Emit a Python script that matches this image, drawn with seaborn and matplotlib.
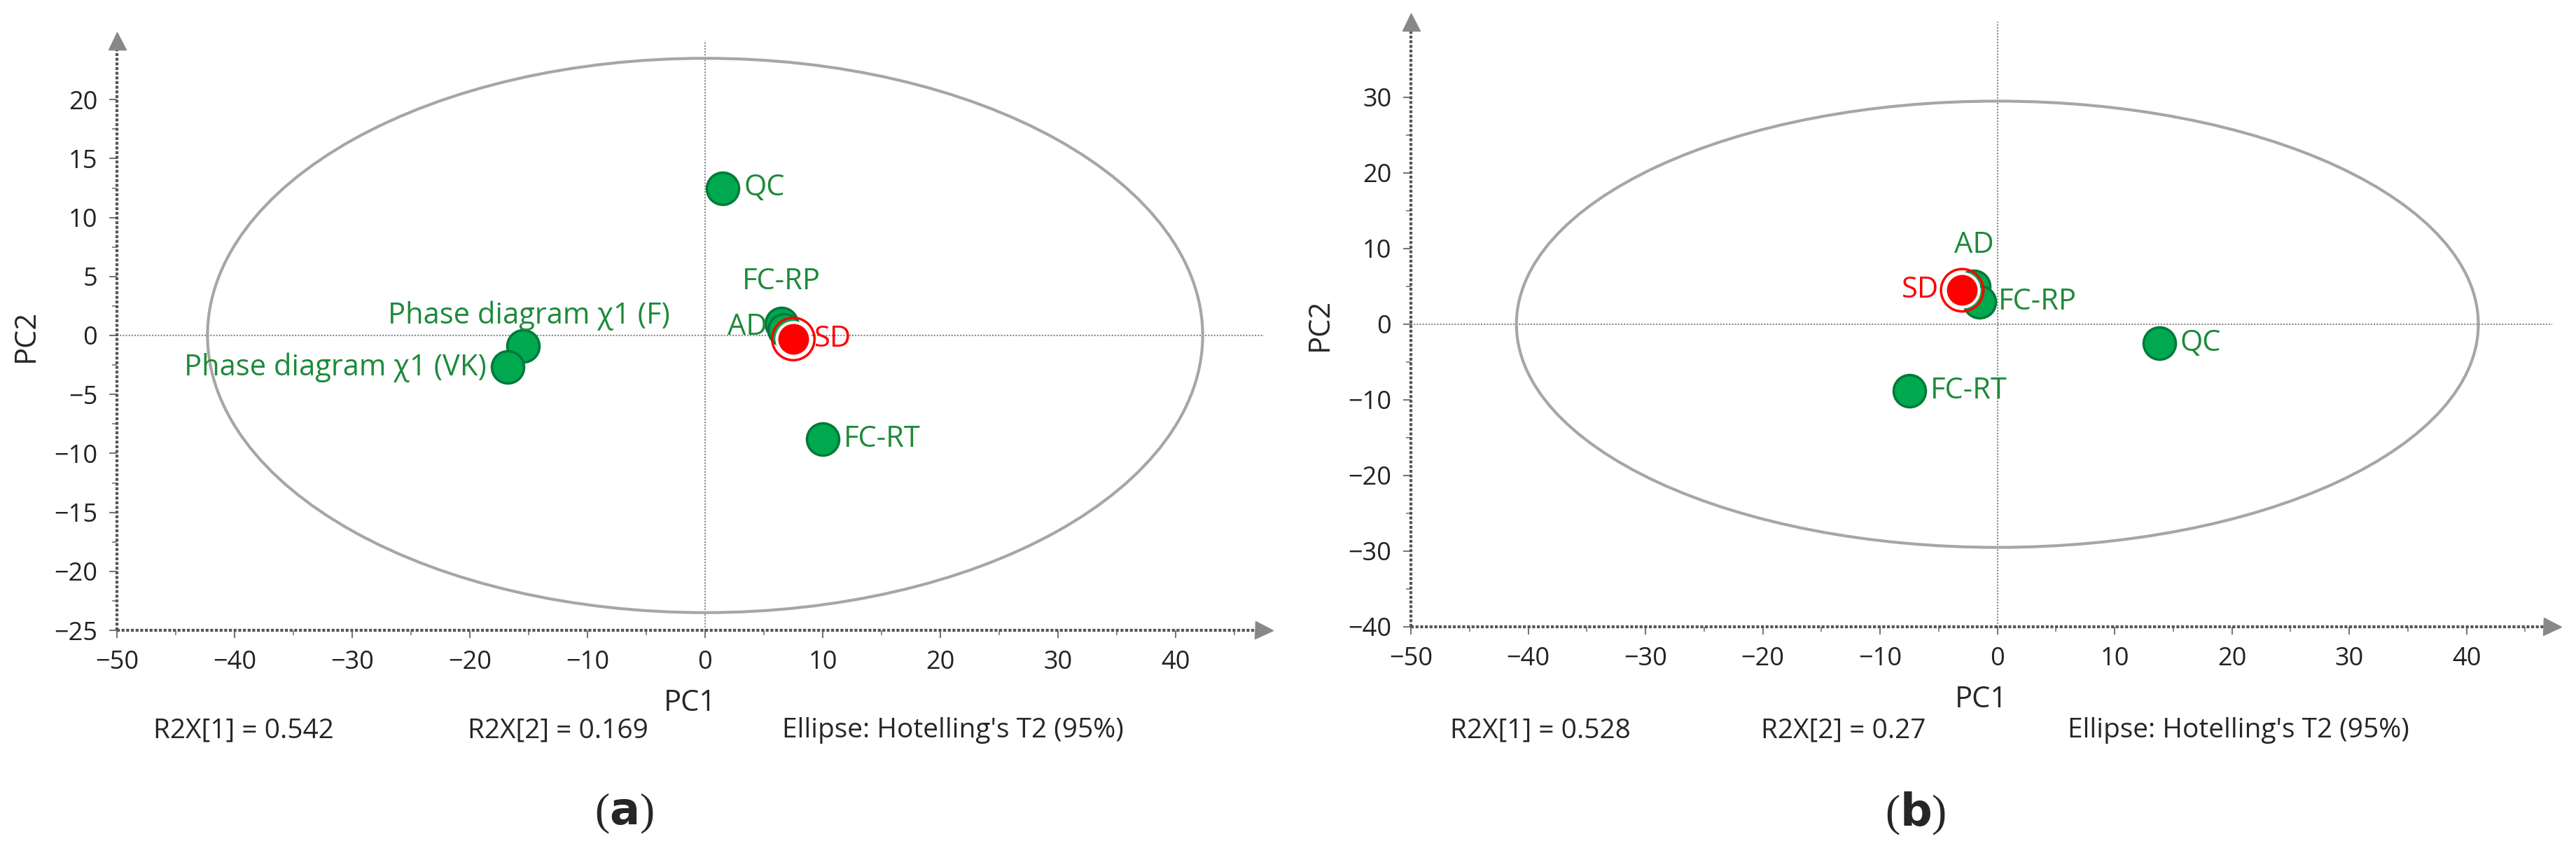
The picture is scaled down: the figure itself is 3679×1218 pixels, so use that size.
import numpy as np
import pandas as pd
import matplotlib
matplotlib.use('Agg')
import matplotlib.pyplot as plt
from matplotlib.patches import Ellipse
import seaborn as sns

sns.set_style('white')
plt.rcParams['font.family'] = ['Open Sans', 'DejaVu Sans']

# panel (a) scores
names_a = ['QC', 'FC-RP', 'AD', 'SD', 'FC-RT', 'Phase diagram χ1 (F)', 'Phase diagram χ1 (VK)']
pc1_a = [1.5, 6.5, 6.7, 7.5, 10.0, -15.5, -16.8]
pc2_a = [12.5, 1.0, 0.5, -0.3, -8.8, -0.9, -2.7]
r2x_a = ['R2X[1] = 0.542', 'R2X[2] = 0.169']
ell_a = [42.3, 23.5]

# panel (b) scores
names_b = ['AD', 'FC-RP', 'SD', 'QC', 'FC-RT']
pc1_b = [-2.0, -1.5, -3.0, 13.8, -7.5]
pc2_b = [5.0, 3.0, 4.5, -2.5, -8.8]
r2x_b = ['R2X[1] = 0.528', 'R2X[2] = 0.27']
ell_b = [41.0, 29.5]

GREEN = '#00a84f'
GEDGE = '#00793a'
GTEXT = '#1d8a3a'
RED = '#ff0000'

W, H = 3679, 1218
fig = plt.figure(figsize=(W / 100, H / 100), dpi=100)


def px_axes(l, r, t, b):
    return fig.add_axes([l / W, 1 - b / H, (r - l) / W, (b - t) / H])


def panel(ax, names, x, y, ell, xlim, ylim, yticks, labels):
    df = pd.DataFrame({'PC1': x, 'PC2': y, 'name': names})
    df['grp'] = np.where(df['name'] == 'SD', 'SD', 'other')
    ax.set_xlim(*xlim)
    ax.set_ylim(*ylim)
    ax.add_patch(Ellipse((0, 0), 2 * ell[0], 2 * ell[1], fill=False,
                         ec='#a6a6a6', lw=3, zorder=1))
    ax.axhline(0, color='#888888', lw=1.5, ls=(0, (1, 1)), zorder=0)
    ax.axvline(0, color='#888888', lw=1.5, ls=(0, (1, 1)), zorder=0)
    sns.scatterplot(data=df[df.grp == 'other'], x='PC1', y='PC2', ax=ax,
                    color=GREEN, edgecolor=GEDGE, linewidth=2.5, s=1100, zorder=3)
    sd = df[df.grp == 'SD']
    sns.scatterplot(data=sd, x='PC1', y='PC2', ax=ax, color=RED,
                    edgecolor='white', linewidth=3, s=1200, zorder=4)
    ax.scatter(sd['PC1'], sd['PC2'], s=1900, facecolor='none',
               edgecolor=RED, linewidth=2.5, zorder=4)
    for n, (dx, dy, ha, va) in labels.items():
        r = df[df.name == n].iloc[0]
        ax.text(r.PC1 + dx, r.PC2 + dy, n, color=RED if n == 'SD' else GTEXT,
                fontsize=30, ha=ha, va=va, zorder=5)
    for s in ax.spines.values():
        s.set_visible(False)
    ax.plot([xlim[0], xlim[1]], [ylim[0], ylim[0]], color='#555555', lw=3,
            ls=(0, (1, 0.6)), clip_on=False)
    ax.plot([xlim[0], xlim[0]], [ylim[0], ylim[1]], color='#555555', lw=3,
            ls=(0, (1, 0.6)), clip_on=False)
    ax.plot([xlim[1]], [ylim[0]], marker='>', ms=18, color='#888888', clip_on=False)
    ax.plot([xlim[0]], [ylim[1]], marker='^', ms=18, color='#888888', clip_on=False)
    ax.set_xticks(np.arange(-50, 41, 10))
    ax.set_xticks(np.arange(-45, 46, 5), minor=True)
    ax.set_yticks(yticks)
    ax.set_yticks(np.arange(yticks[0], yticks[-1] + 1, (yticks[1] - yticks[0]) / 2), minor=True)
    ax.tick_params(which='both', bottom=True, left=True, direction='out',
                   color='#777777', labelsize=26, labelcolor='#222222')
    ax.tick_params(which='major', length=8, width=1.5, pad=12)
    ax.tick_params(which='minor', length=5, width=1.2)
    ax.set_xlabel('PC1', fontsize=30, labelpad=14)
    ax.set_ylabel('PC2', fontsize=30, labelpad=14)


ax_a = px_axes(167, 1805, 58, 900)
panel(ax_a, names_a, pc1_a, pc2_a, ell_a, (-50, 47.5), (-25, 25),
      np.arange(-25, 21, 5),
      {'QC': (1.8, 0, 'left', 'center'),
       'FC-RP': (0, 2.3, 'center', 'bottom'),
       'AD': (-1.4, 0.2, 'right', 'center'),
       'SD': (1.8, 0, 'left', 'center'),
       'FC-RT': (1.8, 0, 'left', 'center'),
       'Phase diagram χ1 (F)': (0.5, 1.3, 'center', 'bottom'),
       'Phase diagram χ1 (VK)': (-1.8, 0, 'right', 'center')})

ax_b = px_axes(2015, 3645, 31, 895)
panel(ax_b, names_b, pc1_b, pc2_b, ell_b, (-50, 47.3), (-40, 40),
      np.arange(-40, 31, 10),
      {'AD': (0, 3.5, 'center', 'bottom'),
       'FC-RP': (1.6, 0, 'left', 'center'),
       'SD': (-2.0, 0, 'right', 'center'),
       'QC': (1.8, 0, 'left', 'center'),
       'FC-RT': (1.8, 0, 'left', 'center')})

for xs, texts, tag in [((348, 797, 1361), r2x_a, 'a'),
                       ((2200, 2633, 3197), r2x_b, 'b')]:
    for xp, t in zip(xs, texts + ["Ellipse: Hotelling's T2 (95%)"]):
        fig.text(xp / W, 1 - 1043 / H, t, fontsize=28, ha='center', va='center')
    fig.text((xs[0] + xs[2]) / 2 / W + 0.01, 1 - 1162 / H, r'($\mathbf{%s}$)' % tag,
             fontsize=46, ha='center', va='center', family='Liberation Serif')

fig.savefig('out.png', dpi=100)
